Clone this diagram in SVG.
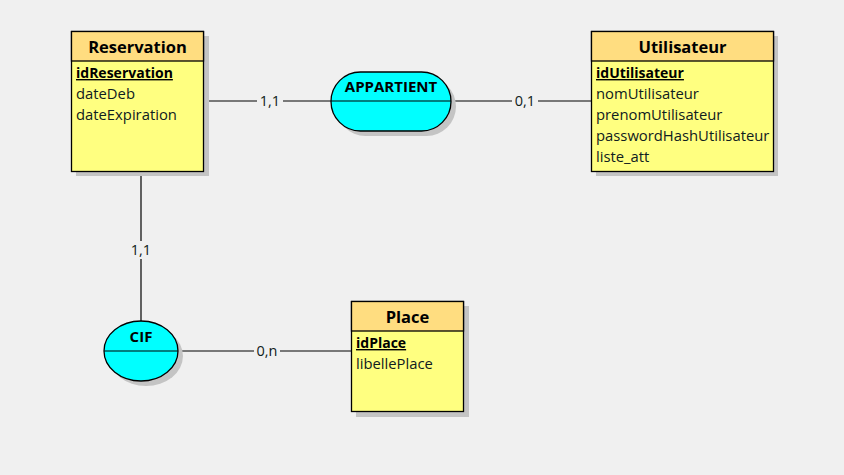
<svg xmlns="http://www.w3.org/2000/svg" width="844" height="475" viewBox="0 0 844 475">
<style>
.bg{fill:#f0f0f0}
.shadow{fill:#c4c4c4}
.body{fill:#ffff80;stroke:#000;stroke-width:1.3}
.head{fill:#ffdd80;stroke:#000;stroke-width:1.3}
.rel{fill:#00ffff;stroke:#000;stroke-width:1.3}
.title{font-family:"Open Sans","Noto Sans",sans-serif;font-size:16.5px;font-weight:bold;fill:#000;text-anchor:middle}
.rtitle{font-family:"Open Sans","Noto Sans",sans-serif;font-size:15px;font-weight:bold;fill:#000;text-anchor:middle}
.attr{font-family:"Open Sans","Noto Sans",sans-serif;font-size:14.8px;fill:#0f2020}
.key{font-family:"Open Sans","Noto Sans",sans-serif;font-size:14px;font-weight:bold;fill:#000;text-decoration:underline}
.line{stroke:#000;stroke-width:1.2;fill:none}
.lbl{font-family:"Open Sans","Noto Sans",sans-serif;font-size:14.5px;fill:#0f2020;text-anchor:middle}
.lblbg{fill:#f0f0f0}
</style>
<rect class="bg" x="0" y="0" width="844" height="475"/>
<g id="connectors">
<line class="line" x1="204" y1="101" x2="331" y2="101"/>
<rect class="lblbg" x="257" y="92" width="26" height="18"/>
<text class="lbl" x="270" y="106">1,1</text>
<line class="line" x1="451" y1="101" x2="591" y2="101"/>
<rect class="lblbg" x="512" y="92" width="26" height="18"/>
<text class="lbl" x="525" y="106">0,1</text>
<line class="line" x1="141" y1="171" x2="141" y2="321"/>
<rect class="lblbg" x="128" y="241" width="26" height="18"/>
<text class="lbl" x="141" y="255">1,1</text>
<line class="line" x1="178" y1="351" x2="351" y2="351"/>
<rect class="lblbg" x="254" y="342" width="26" height="18"/>
<text class="lbl" x="267" y="356">0,n</text>
</g>
<g id="Reservation">
<rect class="shadow" x="76" y="36" width="133" height="140"/>
<rect class="body" x="71.5" y="31.5" width="132" height="140"/>
<rect class="head" x="71.5" y="31.5" width="132" height="29.5"/>
<text class="title" x="137.5" y="53">Reservation</text>
<text class="key" x="76" y="78">idReservation</text>
<text class="attr" x="76" y="99">dateDeb</text>
<text class="attr" x="76" y="120">dateExpiration</text>
</g>
<g id="Utilisateur">
<rect class="shadow" x="596" y="36" width="182" height="140"/>
<rect class="body" x="591.5" y="31.5" width="182" height="140"/>
<rect class="head" x="591.5" y="31.5" width="182" height="29.5"/>
<text class="title" x="682.5" y="53">Utilisateur</text>
<text class="key" x="596" y="78">idUtilisateur</text>
<text class="attr" x="596" y="99">nomUtilisateur</text>
<text class="attr" x="596" y="120">prenomUtilisateur</text>
<text class="attr" x="596" y="141">passwordHashUtilisateur</text>
<text class="attr" x="596" y="162">liste_att</text>
</g>
<g id="Place">
<rect class="shadow" x="356" y="306" width="113" height="111"/>
<rect class="body" x="351.5" y="301.5" width="112" height="110"/>
<rect class="head" x="351.5" y="301.5" width="112" height="29.5"/>
<text class="title" x="407.5" y="323">Place</text>
<text class="key" x="356" y="348">idPlace</text>
<text class="attr" x="356" y="369">libellePlace</text>
</g>
<g id="APPARTIENT">
<rect class="shadow" x="336" y="77" width="120" height="59" rx="29.5"/>
<rect class="rel" x="331" y="72" width="120" height="59" rx="29.5"/>
<line class="line" x1="331" y1="101" x2="451" y2="101"/>
<text class="rtitle" x="391" y="92">APPARTIENT</text>
</g>
<g id="CIF">
<ellipse class="shadow" cx="146" cy="356" rx="37" ry="30"/>
<ellipse class="rel" cx="141" cy="351" rx="37" ry="30"/>
<line class="line" x1="104" y1="351" x2="178" y2="351"/>
<text class="rtitle" x="141" y="342">CIF</text>
</g>
</svg>
